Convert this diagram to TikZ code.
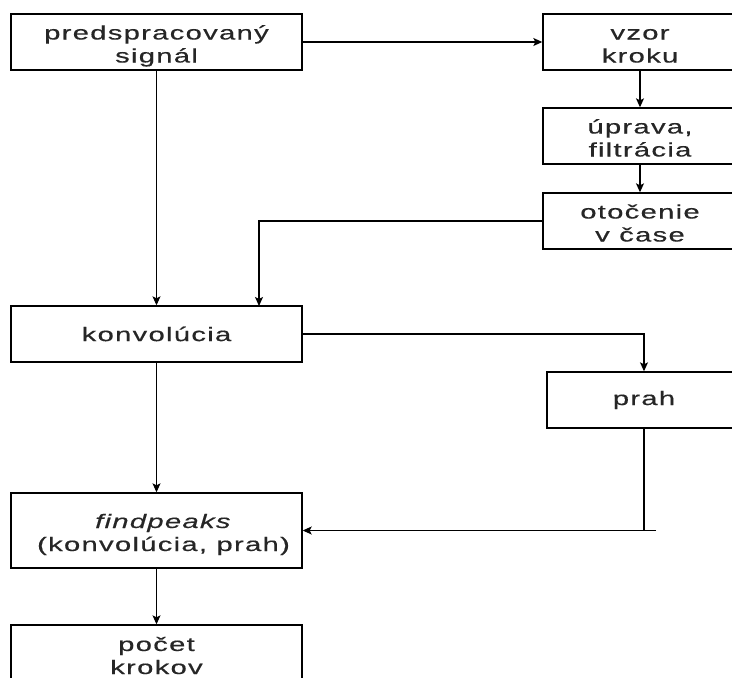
\documentclass[tikz,border=0pt]{standalone}
\usepackage{fontspec}
\setmainfont{Liberation Sans}[FakeStretch=1.5,LetterSpace=6.5,FakeBold=0.4]
\usetikzlibrary{arrows.meta}
\newcommand{\topst}{\rule{0pt}{23pt}}
\newcommand{\botst}{\rule[-5pt]{0pt}{5pt}}
\tikzset{
  blk/.style={draw=black, line width=1.4pt, fill=white, inner sep=0pt, align=center,
    minimum height=56pt, font=\fontsize{19.5}{23}\selectfont, text=black!85},
  lblk/.style={blk, minimum width=291pt},
  rblk/.style={blk, minimum width=194pt},
  conn/.style={draw=black, line width=1.1pt},
  arr/.style={conn, -{Stealth[length=9pt,width=8pt,inset=2pt]}}
}
\begin{document}
\begin{tikzpicture}[x=1pt,y=-1pt]
\useasboundingbox (0,0) rectangle (732,678);
\clip (0,0) rectangle (732,678);
\node[lblk] (pre) at (156.5,42) {\topst predspracovaný\\signál\botst};
\node[rblk] (vzor) at (640,42) {\topst vzor\\kroku\botst};
\node[rblk] (upr) at (640,136) {\topst úprava,\\filtrácia\botst};
\node[rblk] (oto) at (640,221) {\topst otočenie\\v čase\botst};
\node[lblk] (konv) at (156.5,334) {konvolúcia};
\node[rblk] (prah) at (644,400) {prah};
\node[lblk, minimum height=75pt] (find) at (156.5,530.5) {\topst\hspace*{14pt}\textit{findpeaks}\\\hspace*{14pt}(konvolúcia, prah)\botst};
\node[lblk, minimum height=57pt] (poc) at (156.5,653.5) {\topst počet\\krokov\botst};
\coordinate (kin) at (259,306);
\coordinate (j) at (656,530.5);
\draw[arr] (pre) -- (konv);
\draw[arr] (pre) -- (vzor);
\draw[arr] (vzor) -- (upr);
\draw[arr] (upr) -- (oto);
\draw[arr] (oto.west) -| (kin);
\draw[arr] (konv.east) -| (prah.north);
\draw[conn] (prah.south) |- (j);
\draw[arr] (j) -- (find.east);
\draw[arr] (konv) -- (find);
\draw[arr] (find) -- (poc);
\end{tikzpicture}
\end{document}
